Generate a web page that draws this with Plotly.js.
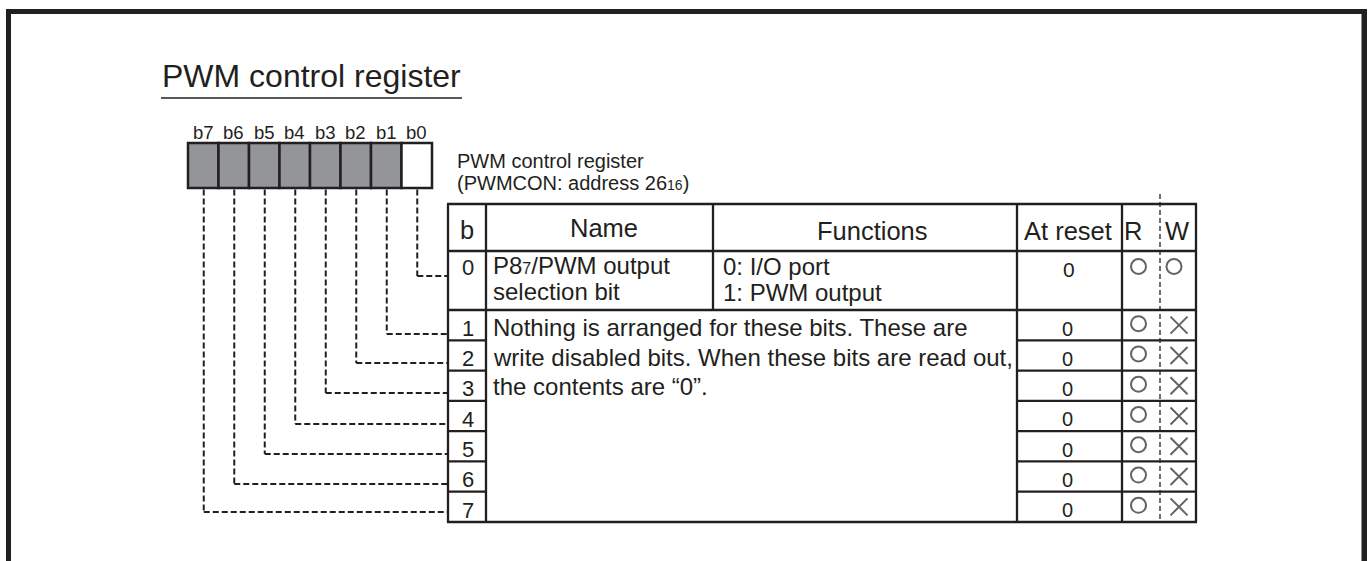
<!DOCTYPE html>
<html>
<head>
<meta charset="utf-8">
<script src="https://cdn.plot.ly/plotly-3.0.1.min.js"></script>
<style>
html,body{margin:0;padding:0;background:#fff;}
#chart{width:1369px;height:561px;}
</style>
</head>
<body>
<div id="chart"></div>
<script>
// ---------------- data ----------------
const diagramTitle = 'PWM control register';
const registerCaption = ['PWM control register', '(PWMCON: address 26<span style="font-size:14px">16</span>)'];
const bitLabels = ['b7', 'b6', 'b5', 'b4', 'b3', 'b2', 'b1', 'b0'];
const bitReserved = [true, true, true, true, true, true, true, false];
const headers = ['b', 'Name', 'Functions', 'At reset', 'R', 'W'];
const rowBits = ['0', '1', '2', '3', '4', '5', '6', '7'];
const bit0Name = ['P8<span style="font-size:16px">7</span>/PWM output', 'selection bit'];
const bit0Functions = ['0: I/O port', '1: PWM output'];
const reservedText = ['Nothing is arranged for these bits. These are',
                      'write disabled bits. When these bits are read out,',
                      'the contents are \u201C0\u201D.'];
const atReset = ['0', '0', '0', '0', '0', '0', '0', '0'];
const readable = ['O', 'O', 'O', 'O', 'O', 'O', 'O', 'O'];
const writable = ['O', 'X', 'X', 'X', 'X', 'X', 'X', 'X'];

// ---------------- layout constants ----------------
const W = 1369, H = 561;
const INK = '#231f20';
const GRAY = '#939598';
const FONT = '"Liberation Sans", Arial, Helvetica, sans-serif';

const boxLeft = 188, boxW = 30.5, boxTop = 143, boxBottom = 188;
const colX = [448, 486, 713, 1017, 1122, 1160, 1196];
const rowY = [204, 251, 310, 340.3, 370.6, 400.9, 431.1, 461.4, 491.7, 522];
const leaderY = [276, 334, 363, 393, 424, 454, 484, 512]; // for bit 0..7
const GRID_W = 2.3;

const shapes = [];
const annotations = [];

function line(x0, y0, x1, y1, width, dash) {
  shapes.push({type: 'line', xref: 'x', yref: 'y', x0, y0, x1, y1,
               line: {color: INK, width, dash: dash || 'solid'}});
}
function txt(text, x, y, size, anchor) {
  annotations.push({text, x, y, xref: 'x', yref: 'y', showarrow: false,
                    xanchor: anchor || 'center', yanchor: 'middle',
                    font: {family: FONT, size, color: INK}});
}

// outer frame (open at bottom): dark rect with white rect inside, below everything
shapes.push({type: 'rect', xref: 'x', yref: 'y', layer: 'below', x0: 6, x1: 1367, y0: 9, y1: H + 20,
             fillcolor: INK, line: {width: 0}});
shapes.push({type: 'rect', xref: 'x', yref: 'y', layer: 'below', x0: 11, x1: 1361.5, y0: 14, y1: H + 20,
             fillcolor: '#ffffff', line: {width: 0}});

// title + underline
txt(diagramTitle, 160, 76, 32, 'left');
line(161, 98, 462, 98, 1.5);

// bit boxes
bitLabels.forEach((lab, i) => {
  const x0 = boxLeft + i * boxW;
  shapes.push({type: 'rect', xref: 'x', yref: 'y', x0, x1: x0 + boxW, y0: boxTop, y1: boxBottom,
               fillcolor: bitReserved[i] ? GRAY : '#ffffff', line: {color: INK, width: 2.5}});
  txt(lab, x0 + boxW / 2, 132, 18.5);
  // leader lines: bit index = 7 - i
  const bit = 7 - i;
  const xc = x0 + boxW / 2 + 0.5;
  line(xc, boxBottom + 1.5, xc, leaderY[bit], 2, '6px,3px');
  line(xc, leaderY[bit], colX[0], leaderY[bit], 2, '6px,3px');
});

// register caption
txt(registerCaption[0], 455, 161, 20, 'left');
txt(registerCaption[1], 455, 182.5, 20, 'left');

// table grid
const L = colX[0], R = colX[colX.length - 1];
const T = rowY[0], B = rowY[rowY.length - 1];
line(L - 1, T, R + 1, T, GRID_W);
line(L, rowY[1], R, rowY[1], GRID_W);
line(L, rowY[2], R, rowY[2], GRID_W);
line(L - 1, B, R + 1, B, GRID_W);
for (let k = 3; k < rowY.length - 1; k++) {
  line(colX[0], rowY[k], colX[1], rowY[k], GRID_W);
  line(colX[3], rowY[k], R, rowY[k], GRID_W);
}
line(colX[0], T, colX[0], B, GRID_W);
line(colX[1], T, colX[1], B, GRID_W);
line(colX[2], T, colX[2], rowY[2], GRID_W);
line(colX[3], T, colX[3], B, GRID_W);
line(colX[4], T, colX[4], B, GRID_W);
line(R, T, R, B, GRID_W);
line(colX[5], 194, colX[5], B, 1.3, '5px,3px');

// headers
const headerX = [467, 604, 872, 1068, 1133, 1177];
const headerY = [229.5, 227.5, 230.5, 230.5, 230.5, 230.5];
headers.forEach((h, i) => txt(h, headerX[i], headerY[i], 25.5));

// bit numbers
rowBits.forEach((b, k) => {
  const y = k === 0 ? 267.5 : rowY[k + 2] - 12;
  txt(b, 467.5, y, 22);
});

// row 0 name / functions
txt(bit0Name[0], 491, 265.5, 24, 'left');
txt(bit0Name[1], 491, 291.5, 24, 'left');
txt(bit0Functions[0], 721, 266, 24, 'left');
txt(bit0Functions[1], 721, 292.5, 24, 'left');

// reserved bits description
const descY = [327.3, 357.3, 386.6];
reservedText.forEach((t, i) => txt(t, 491, descY[i], 24, 'left'));

// at reset
atReset.forEach((v, k) => {
  if (k === 0) txt(v, 1069, 269.5, 21);
  else txt(v, 1067, rowY[k + 2] - 11.7, 20);
});

// R / W marks
const mx = [], my = [], msym = [], msize = [];
function rowMid(k) { return k === 0 ? 268 : (rowY[k + 1] + rowY[k + 2]) / 2; }
readable.forEach((v, k) => {
  mx.push(1138.5); my.push(rowMid(k) - 1.5);
  msym.push(v === 'O' ? 'circle-open' : 'x-thin-open'); msize.push(v === 'O' ? 15 : 17);
});
writable.forEach((v, k) => {
  const isO = v === 'O';
  mx.push(isO ? 1174 : 1179); my.push(rowMid(k) - (isO ? 1.5 : 0));
  msym.push(isO ? 'circle-open' : 'x-thin-open'); msize.push(isO ? 15 : 17);
});

const trace = {
  type: 'scatter', mode: 'markers', x: mx, y: my, hoverinfo: 'skip',
  marker: {symbol: msym, size: msize, color: INK, line: {color: INK, width: 2}}
};

const layout = {
  width: W, height: H, margin: {l: 0, r: 0, t: 0, b: 0, pad: 0},
  paper_bgcolor: '#ffffff', plot_bgcolor: 'rgba(0,0,0,0)', showlegend: false,
  xaxis: {range: [0, W], visible: false, fixedrange: true},
  yaxis: {range: [H, 0], visible: false, fixedrange: true},
  shapes, annotations
};

Plotly.newPlot('chart', [trace], layout, {displayModeBar: false, staticPlot: true});
</script>
</body>
</html>
